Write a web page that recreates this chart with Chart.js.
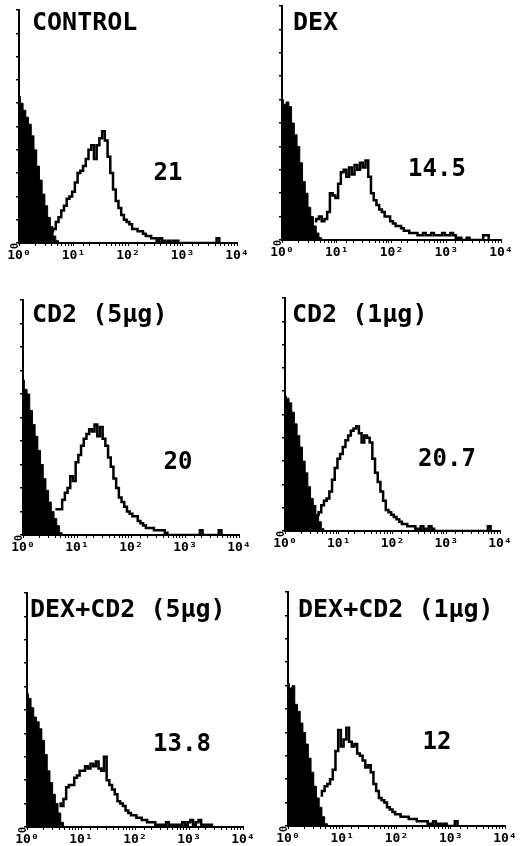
<!DOCTYPE html>
<html>
<head>
<meta charset="utf-8">
<script src="https://cdn.jsdelivr.net/npm/chart.js@4"></script>
<style>
  html, body { margin: 0; padding: 0; background: #fff; }
  #page { position: relative; width: 520px; height: 846px; overflow: hidden; }
  #page canvas { position: absolute; }
</style>
</head>
<body>
<div id="page">
  <canvas id="p1" width="248" height="263" style="left:5px;top:4px"></canvas>
  <canvas id="p2" width="249" height="264" style="left:268px;top:0px"></canvas>
  <canvas id="p3" width="246" height="265" style="left:9px;top:294px"></canvas>
  <canvas id="p4" width="245" height="263" style="left:271px;top:292px"></canvas>
  <canvas id="p5" width="246" height="264" style="left:13px;top:587px"></canvas>
  <canvas id="p6" width="247" height="264" style="left:274px;top:586px"></canvas>
</div>
<script>
// channels: 20 per decade, 10^0 .. 10^4
var decadeBins = 20;
var openStart = 12;
var tickLabels = ['10\u2070', '10\u00b9', '10\u00b2', '10\u00b3', '10\u2074'];

var panelTitles = ['CONTROL', 'DEX', 'CD2 (5\u03bcg)', 'CD2 (1\u03bcg)', 'DEX+CD2 (5\u03bcg)', 'DEX+CD2 (1\u03bcg)'];
var panelValues = ['21', '14.5', '20', '20.7', '13.8', '12'];

// filled (negative control) histograms, from channel 0
var controlNeg = [63, 60, 57, 54, 51, 46, 40, 33, 27, 21, 16, 11, 7, 3, 1, 0];
var dexNeg = [60, 58, 59, 57, 50, 45, 40, 33, 25, 20, 14, 10, 6, 3, 1, 0];
var cd2FiveNeg = [66, 62, 60, 53, 47, 42, 36, 30, 24, 19, 14, 10, 7, 4, 1, 0];
var cd2OneNeg = [58, 57, 55, 51, 46, 41, 36, 30, 25, 19, 14, 11, 7, 4, 1, 0];
var dexCd2FiveNeg = [57, 55, 51, 47, 45, 42, 37, 31, 24, 19, 14, 10, 6, 2, 0];
var dexCd2OneNeg = [61, 59, 60, 52, 49, 44, 40, 35, 29, 23, 17, 12, 8, 4, 1, 0];

// open (stained) histograms, from channel 12
var controlPos = [5, 6, 9, 11, 14, 16, 19, 20, 22, 26, 30, 31, 33, 36, 40, 42, 36, 42, 45, 48,
  44, 37, 30, 23, 18, 15, 12, 10, 9, 8, 6, 6, 5, 5, 4, 3, 3, 2, 2, 1,
  2, 1, 0, 1, 0, 1, 1, 0, 0, 0, 0, 0, 0, 0, 0, 0, 0, 0, 0, 0,
  0, 2, 0];
var dexPos = [8, 9, 10, 8, 9, 12, 20, 19, 18, 24, 29, 30, 27, 31, 28, 32, 30, 33, 31, 34,
  27, 20, 17, 15, 13, 12, 10, 10, 8, 7, 6, 6, 5, 4, 4, 3, 3, 3, 2, 2,
  3, 2, 2, 3, 2, 2, 2, 3, 2, 2, 3, 2, 1, 1, 0, 0, 1, 0, 0, 0,
  0, 0, 2, 2, 0];
var cd2FivePos = [11, 11, 11, 15, 18, 20, 25, 23, 31, 34, 38, 41, 43, 45, 44, 47, 42, 46, 41, 38,
  33, 29, 24, 20, 16, 14, 12, 10, 9, 8, 8, 6, 5, 4, 3, 3, 3, 2, 2, 2,
  2, 1, 0, 0, 0, 0, 0, 0, 0, 0, 0, 0, 0, 0, 2, 0, 0, 0, 0, 0,
  0, 2, 0];
var cd2OnePos = [7, 8, 11, 13, 14, 17, 22, 27, 31, 33, 36, 39, 41, 43, 44, 45, 42, 38, 41, 40,
  38, 31, 25, 21, 17, 13, 9, 8, 7, 6, 5, 4, 3, 3, 2, 2, 2, 1, 1, 2,
  1, 1, 2, 1, 0, 0, 0, 0, 0, 0, 0, 0, 0, 0, 0, 0, 0, 0, 0, 0,
  0, 0, 0, 0, 2, 0];
var dexCd2FivePos = [10, 9, 12, 17, 18, 18, 21, 22, 24, 24, 26, 25, 27, 26, 28, 25, 24, 30, 20, 18,
  16, 14, 11, 10, 9, 7, 6, 5, 5, 4, 4, 3, 3, 2, 2, 2, 1, 1, 1, 1,
  2, 1, 1, 1, 1, 1, 2, 1, 2, 3, 1, 2, 3, 1, 1, 1, 1, 0];
var dexCd2OnePos = [13, 15, 17, 18, 20, 24, 32, 41, 34, 37, 42, 36, 34, 35, 31, 30, 28, 25, 26, 23,
  18, 15, 12, 11, 10, 8, 7, 6, 5, 5, 4, 4, 4, 3, 3, 3, 2, 2, 2, 2,
  1, 1, 2, 1, 1, 0, 1, 0, 0, 0, 2, 0];

var negSets = [controlNeg, dexNeg, cd2FiveNeg, cd2OneNeg, dexCd2FiveNeg, dexCd2OneNeg];
var posSets = [controlPos, dexPos, cd2FivePos, cd2OnePos, dexCd2FivePos, dexCd2OnePos];

// text offsets inside each plot area (px from top-left of chart area)
var titleAt = [[13, 13], [11, 17], [9, 15], [7, 17], [3, 17], [10, 18]];
var valueAt = [[149, 164], [155, 164], [155, 163], [162, 162], [155, 152], [149, 151]];

function toPoints(values, start) {
    return values.map(function (v, k) {
        return { x: Math.pow(10, (start + k) / decadeBins), y: v };
    });
}

var panelText = {
    id: 'panelText',
    afterDraw: function (chart, args, opts) {
        var ctx = chart.ctx, area = chart.chartArea;
        ctx.save();
        ctx.fillStyle = '#000';
        ctx.textBaseline = 'middle';
        ctx.textAlign = 'left';
        ctx.font = 'bold 25px "DejaVu Sans Mono"';
        ctx.fillText(opts.title, area.left + opts.titleAt[0], area.top + opts.titleAt[1]);
        ctx.textAlign = 'center';
        ctx.font = 'bold 24px "DejaVu Sans Mono"';
        ctx.fillText(opts.value, area.left + opts.valueAt[0], area.top + opts.valueAt[1]);
        ctx.restore();
    }
};

function makePanel(n) {
    return new Chart(document.getElementById('p' + (n + 1)), {
        type: 'line',
        data: {
            datasets: [{
                data: toPoints(negSets[n], 0),
                stepped: 'middle',
                fill: 'origin',
                backgroundColor: '#000',
                borderColor: '#000',
                borderWidth: 1,
                pointRadius: 0,
                order: 0
            }, {
                data: toPoints(posSets[n], openStart),
                stepped: 'middle',
                fill: false,
                borderColor: '#000',
                borderWidth: 2.5,
                pointRadius: 0,
                order: 1
            }]
        },
        options: {
            responsive: false,
            animation: false,
            layout: { padding: { left: 0, top: 6, right: 16, bottom: 0 } },
            scales: {
                x: {
                    type: 'logarithmic',
                    min: 1,
                    max: 10000,
                    border: { display: true, color: '#000', width: 2 },
                    grid: { drawOnChartArea: false, drawTicks: true, tickLength: 3, color: '#000', lineWidth: 1 },
                    ticks: {
                        autoSkip: false,
                        maxRotation: 0,
                        padding: 2,
                        color: '#000',
                        font: { family: 'DejaVu Sans Mono', size: 13, weight: 'bold' },
                        callback: function (value) {
                            var e = Math.log10(value), r = Math.round(e);
                            return Math.abs(e - r) < 1e-6 ? tickLabels[r] : '';
                        }
                    },
                    afterFit: function (scale) {
                        scale.height = 24;
                        scale.paddingLeft = 0;
                        scale.paddingRight = 0;
                    }
                },
                y: {
                    min: 0,
                    max: 100,
                    border: { display: true, color: '#000', width: 2 },
                    grid: { drawOnChartArea: false, drawTicks: true, tickLength: 3, color: '#000', lineWidth: 1.5 },
                    ticks: {
                        stepSize: 10,
                        minRotation: 90,
                        maxRotation: 90,
                        padding: 1,
                        color: '#000',
                        font: { family: 'DejaVu Sans Mono', size: 10, weight: 'bold' },
                        callback: function (value) { return value === 0 ? '0' : ''; }
                    },
                    afterFit: function (scale) {
                        scale.width = 14;
                        scale.paddingTop = 0;
                        scale.paddingBottom = 0;
                    }
                }
            },
            plugins: {
                legend: { display: false },
                tooltip: { enabled: false },
                panelText: {
                    title: panelTitles[n],
                    value: panelValues[n],
                    titleAt: titleAt[n],
                    valueAt: valueAt[n]
                }
            }
        },
        plugins: [panelText]
    });
}

for (var i = 0; i < 6; i++) {
    makePanel(i);
}
</script>
</body>
</html>
